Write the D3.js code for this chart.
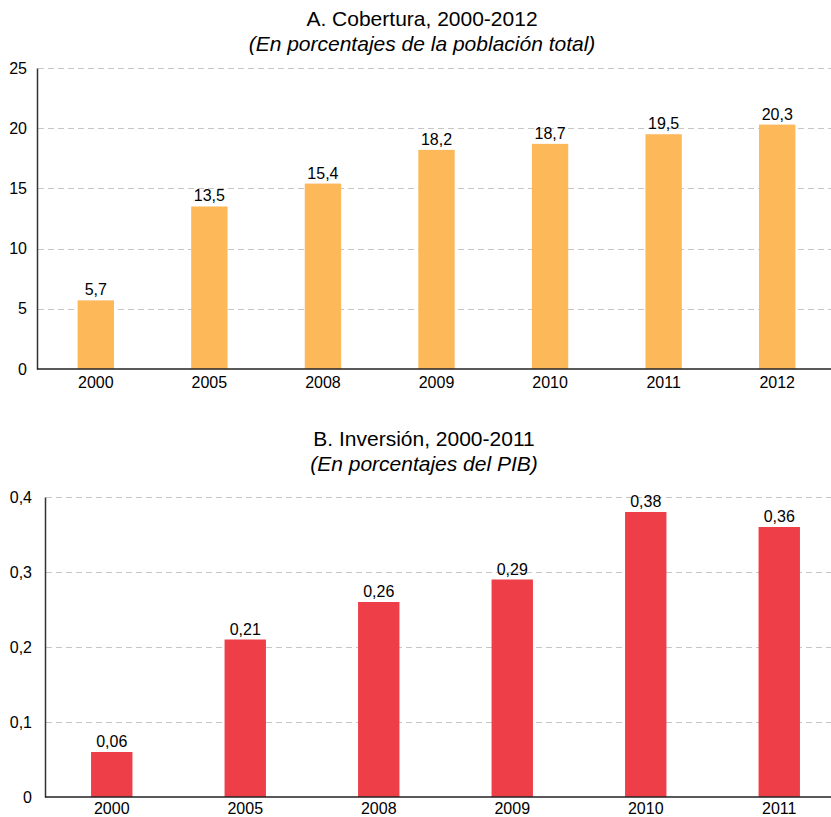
<!DOCTYPE html>
<html>
<head>
<meta charset="utf-8">
<script src="https://cdn.jsdelivr.net/npm/d3@7"></script>
<style>
  body { margin: 0; background: #fff; }
  svg { display: block; }
  svg text { font-family: "Liberation Sans", Arial, sans-serif; fill: #000; }
</style>
</head>
<body>
<div id="chart"></div>
<script>
// Panel A: cobertura
const yearsA = ['2000', '2005', '2008', '2009', '2010', '2011', '2012'];
const valuesA = [5.7, 13.5, 15.4, 18.2, 18.7, 19.5, 20.3];
const ticksA = [0, 5, 10, 15, 20, 25];

// Panel B: inversión
const yearsB = ['2000', '2005', '2008', '2009', '2010', '2011'];
const valuesB = [0.06, 0.21, 0.26, 0.29, 0.38, 0.36];
const ticksB = [0, 0.1, 0.2, 0.3, 0.4];

const fmt = d3.formatLocale({ decimal: ',', thousands: '.', grouping: [3], currency: ['', ''] });

const svg = d3.select('#chart')
  .append('svg')
  .attr('width', 831)
  .attr('height', 817);

function panel(cfg) {
  const x = d3.scaleBand()
    .domain(cfg.years)
    .range([cfg.left, cfg.right])
    .paddingInner(cfg.pad)
    .paddingOuter(cfg.pad / 2);

  const y = d3.scaleLinear()
    .domain([0, cfg.max])
    .range([cfg.bottom, cfg.top]);

  const g = svg.append('g');

  // titles
  g.append('text')
    .attr('x', cfg.titleX)
    .attr('y', cfg.titleY)
    .attr('text-anchor', 'middle')
    .style('font-size', '21px')
    .text(cfg.title);
  g.append('text')
    .attr('x', cfg.titleX)
    .attr('y', cfg.titleY + 25)
    .attr('text-anchor', 'middle')
    .style('font-size', '21px')
    .style('font-style', 'italic')
    .text(cfg.subtitle);

  // gridlines
  g.selectAll('.grid')
    .data(cfg.ticks.filter(t => t > 0))
    .enter().append('line')
    .attr('x1', cfg.axisX + 1)
    .attr('x2', 831)
    .attr('y1', d => Math.round(y(d)) + 0.5)
    .attr('y2', d => Math.round(y(d)) + 0.5)
    .attr('stroke', '#c6c6c6')
    .attr('stroke-dasharray', '6,4');

  // bars
  g.selectAll('.bar')
    .data(cfg.values)
    .enter().append('rect')
    .attr('x', (d, i) => x(cfg.years[i]))
    .attr('y', d => y(d))
    .attr('width', x.bandwidth())
    .attr('height', d => cfg.bottom - y(d))
    .attr('fill', cfg.color);

  // value labels
  g.selectAll('.val')
    .data(cfg.values)
    .enter().append('text')
    .attr('x', (d, i) => x(cfg.years[i]) + x.bandwidth() / 2)
    .attr('y', d => y(d) - 5)
    .attr('text-anchor', 'middle')
    .style('font-size', '16px')
    .text(d => fmt.format(cfg.valFmt)(d));

  // y axis
  const yAxis = g.append('g')
    .attr('transform', `translate(${cfg.axisX},0)`)
    .call(d3.axisLeft(y).tickValues(cfg.ticks).tickSize(0).tickPadding(cfg.tickPad)
      .tickFormat(fmt.format(cfg.tickFmt)));
  yAxis.select('.domain').attr('stroke', '#333').attr('stroke-width', 1.5);
  yAxis.selectAll('text').style('font-size', '16px').attr('fill', '#000');

  // x axis
  const xAxis = g.append('g')
    .attr('transform', `translate(0,${cfg.bottom})`)
    .call(d3.axisBottom(x).tickSize(0).tickPadding(cfg.xPad));
  xAxis.select('.domain')
    .attr('d', `M${cfg.axisX},0H831`)
    .attr('stroke', '#222')
    .attr('stroke-width', 1.5);
  xAxis.selectAll('text').style('font-size', '16px').attr('fill', '#000');
}

panel({
  years: yearsA, values: valuesA, ticks: ticksA, max: 25,
  left: 39, right: 834, pad: 0.68,
  top: 68, bottom: 369, axisX: 37, tickPad: 10, xPad: 8,
  color: '#fdb85a', valFmt: '.1f', tickFmt: 'd',
  title: 'A. Cobertura, 2000-2012',
  subtitle: '(En porcentajes de la población total)',
  titleX: 422, titleY: 26
});

panel({
  years: yearsB, values: valuesB, ticks: ticksB, max: 0.4,
  left: 45, right: 846, pad: 0.69,
  top: 497, bottom: 797, axisX: 45, tickPad: 13, xPad: 6,
  color: '#ee3e48', valFmt: '.2f', tickFmt: '.1~f',
  title: 'B. Inversión, 2000-2011',
  subtitle: '(En porcentajes del PIB)',
  titleX: 424, titleY: 446
});
</script>
</body>
</html>
